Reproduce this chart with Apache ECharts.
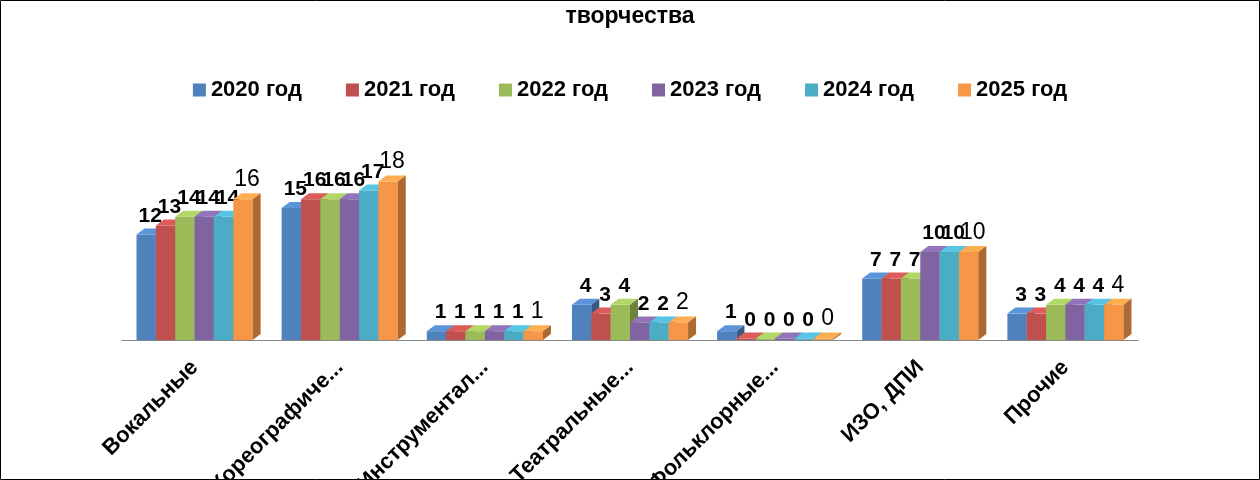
<!DOCTYPE html>
<html><head><meta charset="utf-8">
<script src="https://cdn.jsdelivr.net/npm/echarts@6/dist/echarts.min.js"></script>
<style>html,body{margin:0;background:#fff}#c{width:1260px;height:480px}</style>
</head><body><div id="c"></div>
<script>
const categories = ['Вокальные', 'Хореографиче...', 'Инструментал...', 'Театральные...', 'Фольклорные...', 'ИЗО, ДПИ', 'Прочие'];
const years = ['2020 год', '2021 год', '2022 год', '2023 год', '2024 год', '2025 год'];
const v2020 = [12, 15, 1, 4, 1, 7, 3];
const v2021 = [13, 16, 1, 3, 0, 7, 3];
const v2022 = [14, 16, 1, 4, 0, 7, 4];
const v2023 = [14, 16, 1, 2, 0, 10, 4];
const v2024 = [14, 17, 1, 2, 0, 10, 4];
const v2025 = [16, 18, 1, 2, 0, 10, 4];
const seriesValues = [v2020, v2021, v2022, v2023, v2024, v2025];
const colors = ['#4F81BD', '#C0504D', '#9BBB59', '#8064A2', '#4BACC6', '#F79646'];

const chart = echarts.init(document.getElementById('c'));
const DX = 8, DY = -6;
const FONT = 'Liberation Sans, Arial, sans-serif';

const shade = (hex, k) => {
  const n = parseInt(hex.slice(1), 16);
  const f = c => Math.max(0, Math.min(255, Math.round(c * k)));
  return `rgb(${f(n >> 16)},${f((n >> 8) & 255)},${f(n & 255)})`;
};

const makeSeries = (vals, si) => ({
  type: 'custom',
  name: years[si],
  itemStyle: { color: colors[si] },
  data: vals.map((v, i) => [i, v]),
  renderItem: (params, api) => {
    const band = api.size([1, 0])[0];
    const groupW = band * 0.8;
    const w = groupW / 6;
    const c = api.coord([api.value(0), api.value(1)]);
    const base = api.coord([api.value(0), 0])[1];
    const x = c[0] - groupW / 2 + si * w;
    const top = Math.min(c[1], base - 1.5);
    const col = colors[si];
    const last = si === 5;
    return {
      type: 'group',
      children: [
        { type: 'rect', shape: { x, y: top, width: w, height: base - top }, style: { fill: col } },
        { type: 'polygon', shape: { points: [[x, top], [x + DX, top + DY], [x + w + DX, top + DY], [x + w, top]] }, style: { fill: shade(col, 1.15) } },
        { type: 'polygon', shape: { points: [[x + w, top], [x + w + DX, top + DY], [x + w + DX, base + DY], [x + w, base]] }, style: { fill: shade(col, 0.7) } },
        { type: 'text', x: x + w / 2 + DX / 2, y: top + DY - 2, style: {
          text: String(api.value(1)), align: 'center', verticalAlign: 'bottom',
          fontFamily: FONT, fontSize: last ? 23 : 21,
          fontWeight: last ? 'normal' : 'bold', fill: '#000' } }
      ]
    };
  }
});

chart.setOption({
  animation: false,
  title: { text: 'творчества', left: 'center', top: 0, textStyle: { fontFamily: FONT, fontSize: 23, fontWeight: 'bold', color: '#000' } },
  legend: {
    top: 74, left: 'center', itemGap: 44, itemWidth: 13, itemHeight: 13, icon: 'rect',
    textStyle: { fontFamily: FONT, fontSize: 22, fontWeight: 'bold', color: '#000' },
    data: years
  },
  grid: { left: 122, right: 122, top: 164, bottom: 140, outerBoundsMode: 'none', containLabel: false },
  xAxis: {
    type: 'category', data: categories,
    axisLine: { lineStyle: { color: '#888' } }, axisTick: { show: false },
    axisLabel: { rotate: 45, margin: 24, fontFamily: FONT, fontSize: 22, fontWeight: 'bold', color: '#000', interval: 0 }
  },
  yAxis: { type: 'value', min: 0, max: 20, show: false, splitLine: { show: false } },
  graphic: [{ type: 'rect', shape: { x: 0.5, y: 0.5, width: 1259, height: 479 }, style: { fill: 'none', stroke: '#000', lineWidth: 1 } }],
  series: seriesValues.map(makeSeries)
});
</script></body></html>
